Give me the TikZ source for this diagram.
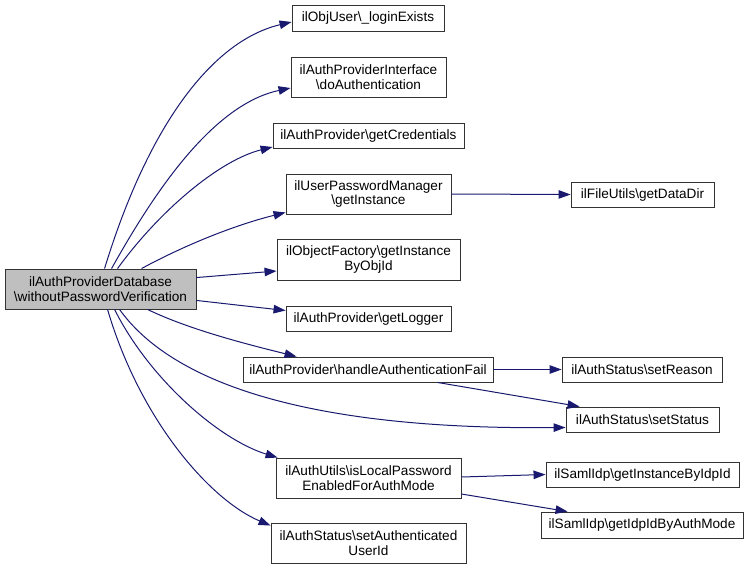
\documentclass[tikz,border=0pt]{standalone}
\usepackage{fontspec}
\setmainfont{Liberation Sans}
\usetikzlibrary{arrows.meta,calc}
\definecolor{edgeblue}{HTML}{191970}
\definecolor{boxline}{HTML}{333333}
\definecolor{mainfill}{HTML}{BFBFBF}
\begin{document}
\begin{tikzpicture}[x=1pt,y=-1pt,
  fn/.style={draw=boxline,line width=0.9pt,fill=white,inner sep=0pt,align=center,
    font=\fontsize{13.6}{14.8}\selectfont,text=black},
  call/.style={draw=edgeblue,line width=1pt,-{Triangle[length=12pt,width=8.5pt]},fill=none},
]
\useasboundingbox (0,0) rectangle (749,570);
\fill[white] (0,0) rectangle (749,570);

\node[fn,fill=mainfill,minimum width=191pt,minimum height=40pt] (main) at (100.5,289) {ilAuthProviderDatabase\\\textbackslash withoutPasswordVerification};
\node[fn,minimum width=152pt,minimum height=26pt] (login) at (368,18) {ilObjUser\textbackslash\_loginExists};
\node[fn,minimum width=155pt,minimum height=40pt] (doauth) at (368.5,77) {ilAuthProviderInterface\\\textbackslash doAuthentication};
\node[fn,minimum width=191pt,minimum height=25pt] (getcred) at (368.5,136) {ilAuthProvider\textbackslash getCredentials};
\node[fn,minimum width=165pt,minimum height=40pt] (getinst) at (368.5,194) {ilUserPasswordManager\\\textbackslash getInstance};
\node[fn,minimum width=143pt,minimum height=25pt] (datadir) at (642.5,194.5) {ilFileUtils\textbackslash getDataDir};
\node[fn,minimum width=183pt,minimum height=41pt] (objid) at (368.5,259.5) {ilObjectFactory\textbackslash getInstance\\ByObjId};
\node[fn,minimum width=165pt,minimum height=25pt] (logger) at (368.5,318.5) {ilAuthProvider\textbackslash getLogger};
\node[fn,minimum width=250pt,minimum height=25pt] (handle) at (368,369.5) {ilAuthProvider\textbackslash handleAuthenticationFail};
\node[fn,minimum width=160pt,minimum height=25pt] (reason) at (642,369.5) {ilAuthStatus\textbackslash setReason};
\node[fn,minimum width=153pt,minimum height=25pt] (status) at (642.5,419.5) {ilAuthStatus\textbackslash setStatus};
\node[fn,minimum width=185pt,minimum height=40pt] (islocal) at (368.5,478) {ilAuthUtils\textbackslash isLocalPassword\\EnabledForAuthMode};
\node[fn,minimum width=193pt,minimum height=25pt] (byidp) at (642.5,474.5) {ilSamlIdp\textbackslash getInstanceByIdpId};
\node[fn,minimum width=202pt,minimum height=26pt] (byauth) at (642,525) {ilSamlIdp\textbackslash getIdpIdByAuthMode};
\node[fn,minimum width=195pt,minimum height=40pt] (authuser) at (368.5,543) {ilAuthStatus\textbackslash setAuthenticated\\UserId};

\draw[call] ([xshift=100pt]main.north west) .. controls (150,120) and (215,40) .. ([yshift=-4pt]login.west);
\draw[call] ([xshift=107pt]main.north west) .. controls (150,200) and (210,105) .. ([yshift=-11pt]doauth.west);
\draw[call] ([xshift=113pt]main.north west) .. controls (160,210) and (220,160) .. ([yshift=-11pt]getcred.west);
\draw[call] ([xshift=137pt]main.north west) .. controls (185,245) and (235,225) .. ([yshift=2pt]getinst.south west);
\draw[call] ([yshift=-9pt]main.north east) -- ([yshift=-11.5pt]objid.west);
\draw[call] ([yshift=9pt]main.south east) -- ([yshift=8pt]logger.west);
\draw[call] ([xshift=143pt]main.south west) .. controls (190,330) and (250,345) .. ([xshift=54pt]handle.north west);
\draw[call] ([xshift=115pt]main.south west) .. controls (170,380) and (300,430) .. ([yshift=-8pt]status.west);
\draw[call] ([xshift=110pt]main.south west) .. controls (150,380) and (220,440) .. ([xshift=2pt]islocal.north west);
\draw[call] ([xshift=103pt]main.south west) .. controls (140,420) and (210,500) .. ([yshift=-3pt]authuser.north west);
\draw[call] (getinst.east) -- (datadir.west);
\draw[call] (handle.east) -- (reason.west);
\draw[call] ([xshift=-56pt]handle.south east) -- ([xshift=14pt]status.north west);
\draw[call] ([yshift=1pt]islocal.east) -- (byidp.west);
\draw[call] ([yshift=-16pt]islocal.east) -- ([xshift=27pt]byauth.north west);
\end{tikzpicture}
\end{document}
